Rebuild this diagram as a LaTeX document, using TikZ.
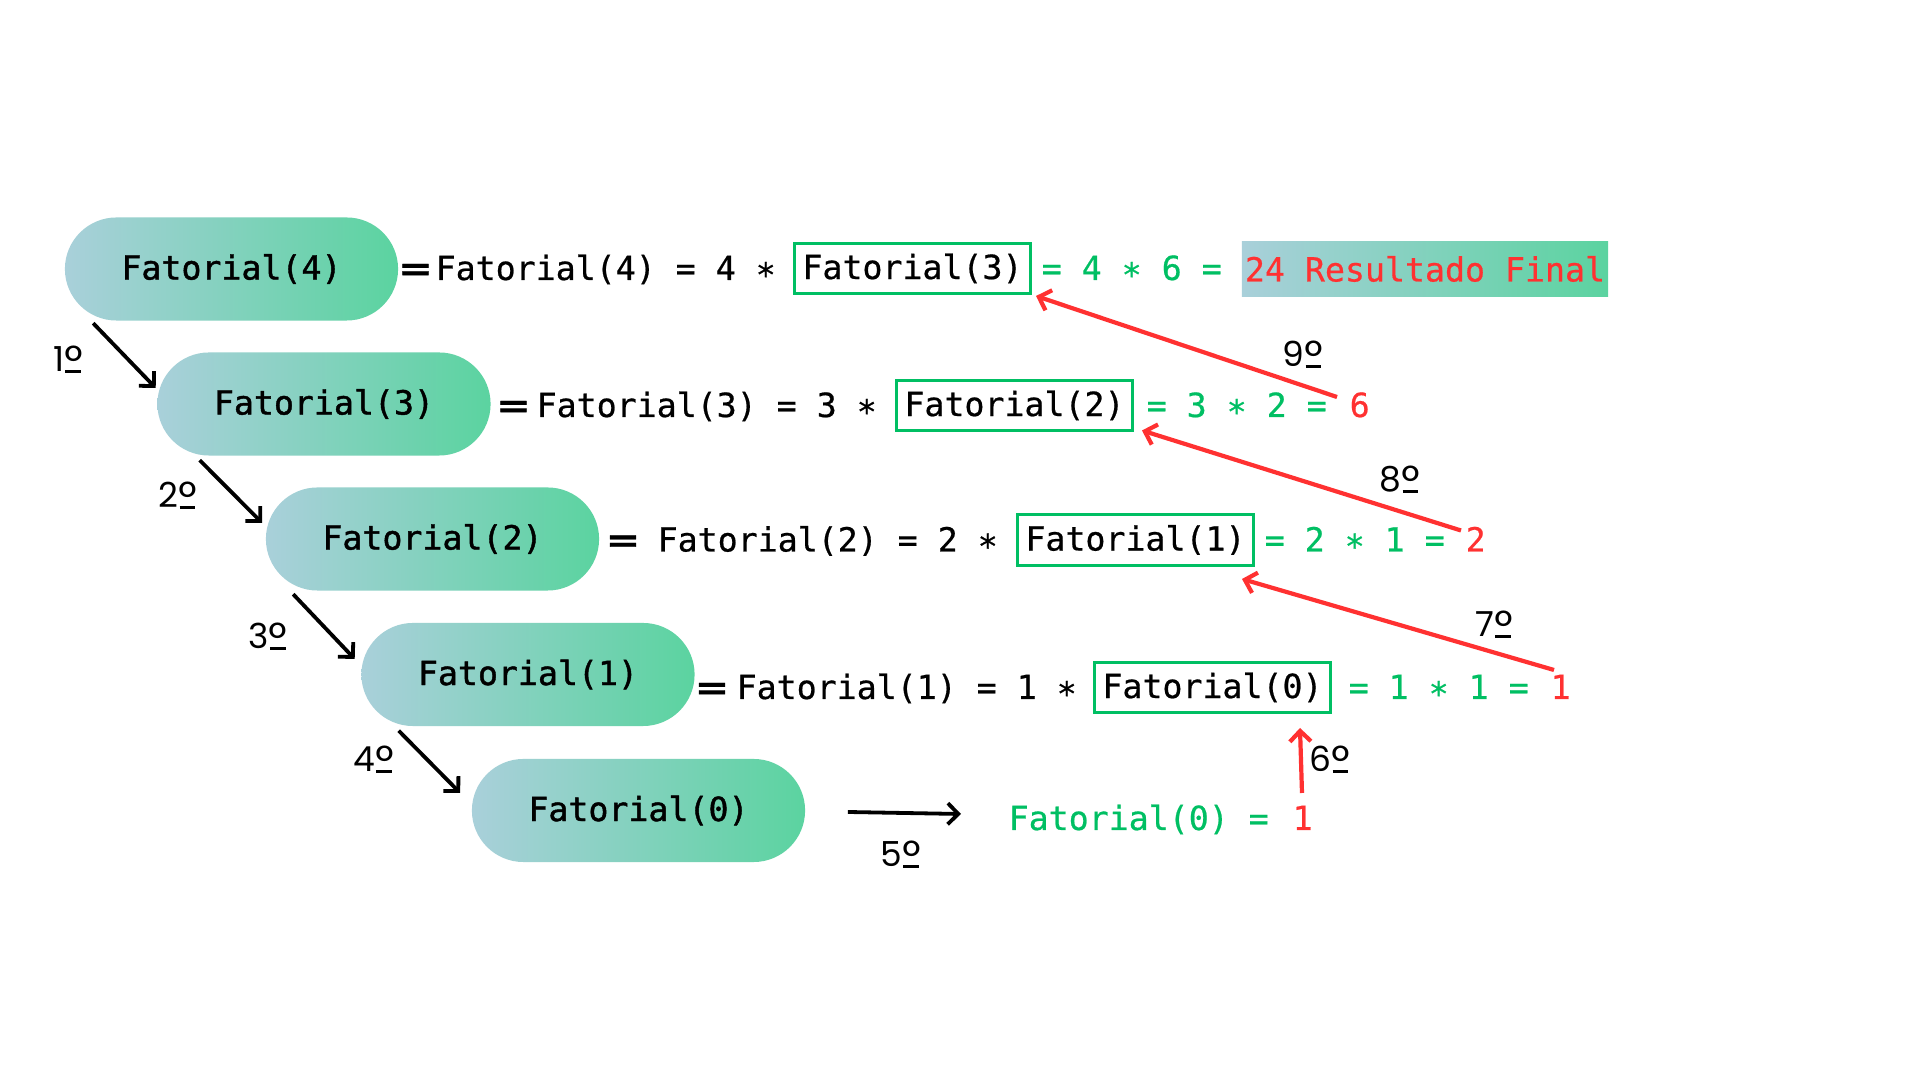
\documentclass[tikz,border=0pt]{standalone}
\usepackage{fontspec}
\setmonofont{DejaVu Sans Mono}[FakeBold=0.6]
\newfontfamily\pillfont{DejaVu Sans Mono}[FakeBold=1.3]
\newfontfamily\lblfont{Poppins}
\usetikzlibrary{arrows.meta,calc}
\definecolor{lgreen}{HTML}{00BF63}
\definecolor{lred}{HTML}{FF3131}
\definecolor{gleft}{HTML}{A9D0DA}
\definecolor{gright}{HTML}{5BD3A0}
\newcommand{\myfs}{\fontsize{9.45pt}{11pt}\selectfont}
\newcommand{\bigeq}{\scalebox{1.5}[1]{=}}
\newcommand{\ordm}{\leavevmode\rlap{\hspace{0.03em}\rule[-0.02em]{0.46em}{0.075em}}\raisebox{-0.14em}{\scalebox{1.25}{º}}}
\tikzset{
 pill/.style={rounded corners=0.515cm, minimum width=3.33cm, minimum height=1.03cm,
   left color=gleft, right color=gright, draw=none, font=\pillfont\myfs, text=black, inner sep=0},
 txt/.style={anchor=base west, inner sep=0, font=\ttfamily\myfs, text=black},
 gtxt/.style={txt, text=lgreen},
 rtxt/.style={txt, text=lred},
 eqs/.style={anchor=base, inner sep=0, font=\ttfamily\bfseries\myfs},
 fbox/.style={draw=lgreen, line width=0.03cm, minimum width=2.36cm, minimum height=0.5cm, inner sep=0, font=\ttfamily\myfs},
 resbox/.style={minimum width=3.66cm, minimum height=0.54cm, inner sep=0, left color=gleft, right color=gright,
   font=\ttfamily\myfs, text=lred},
 lbl/.style={anchor=base, inner sep=0, font=\lblfont\fontsize{9.8pt}{11pt}\selectfont},
 barrow/.style={line width=0.038cm, -{Straight Barb[length=3pt,width=6pt]}},
 rarrow/.style={draw=lred, line width=0.042cm, -{Straight Barb[length=3pt,width=6pt]}},
}
\begin{document}
\begin{tikzpicture}[x=0.01cm,y=-0.01cm]
\fill[white] (0,0) rectangle (1920,1080);
\useasboundingbox (0,0) rectangle (1920,1080);

% pills
\node[pill] (p4) at (231.5,269) {Fatorial(4)};
\node[pill] (p3) at (324,404) {Fatorial(3)};
\node[pill] (p2) at (432.5,539) {Fatorial(2)};
\node[pill] (p1) at (528,674.5) {Fatorial(1)};
\node[pill] (p0) at (638.5,810.5) {Fatorial(0)};

% row 1
\node[eqs] (e1) at (415.5,280) {\bigeq};
\node[txt] (t1) at (435,280) {Fatorial(4) = 4 ∗};
\node[fbox] (b1) at (912.5,268.5) {Fatorial(3)};
\node[gtxt] (g1) at (1041,280) {= 4 ∗ 6 =};
\node[resbox] (f1) at (1425,269) {24 Resultado Final};

% row 2
\node[eqs] (e2) at (513.5,417) {\bigeq};
\node[txt] (t2) at (536,417) {Fatorial(3) = 3 ∗};
\node[fbox] (b2) at (1014.5,405.5) {Fatorial(2)};
\node[gtxt] (g2) at (1146,417) {= 3 ∗ 2 =};
\node[rtxt] (r2) at (1349,417) {6};

% row 3
\node[eqs] (e3) at (623,551.5) {\bigeq};
\node[txt] (t3) at (657,551.5) {Fatorial(2) = 2 ∗};
\node[fbox] (b3) at (1135.5,540) {Fatorial(1)};
\node[gtxt] (g3) at (1264,551.5) {= 2 ∗ 1 =};
\node[rtxt] (r3) at (1465,551.5) {2};

% row 4
\node[eqs] (e4) at (712,699) {\bigeq};
\node[txt] (t4) at (736,699) {Fatorial(1) = 1 ∗};
\node[fbox] (b4) at (1212.5,687.5) {Fatorial(0)};
\node[gtxt] (g4) at (1348,699) {= 1 ∗ 1 =};
\node[rtxt] (r4) at (1550,699) {1};

% row 5
\node[gtxt] (t5) at (1008,830) {Fatorial(0) =};
\node[rtxt] (r5) at (1292,830) {1};

% step labels (baseline positions)
\node[lbl] (s1) at (68,372) {1\ordm};
\node[lbl] (s2) at (178,508) {2\ordm};
\node[lbl] (s3) at (268,649) {3\ordm};
\node[lbl] (s4) at (374,772) {4\ordm};
\node[lbl] (s5) at (901,867) {5\ordm};
\node[lbl] (s6) at (1330,772) {6\ordm};
\node[lbl] (s7) at (1494,637) {7\ordm};
\node[lbl] (s8) at (1400,492) {8\ordm};
\node[lbl] (s9) at (1303,367) {9\ordm};

% black arrows
\draw[barrow] ($(p4.south west)+(29,2)$) -- ($(p3.west)+(-1,-16)$);
\draw[barrow] ($(p3.south west)+(43,4)$) -- ($(p2.west)+(-3,-16)$);
\draw[barrow] ($(p2.south west)+(28,3)$) -- ($(p1.west)+(-6,-15.5)$);
\draw[barrow] ($(p1.south west)+(38,4)$) -- ($(p0.west)+(-11,-17.5)$);
\draw[barrow] ($(p0.east)+(42,1.5)$) -- ($(t5.base west)+(-47,-16)$);

% red arrows
\draw[rarrow] ($(r5.base west)+(10,-37)$) -- ($(b4.center)+(87.5,40.5)$);
\draw[rarrow] ($(r4.base west)+(4,-29)$) -- ($(b3.center)+(106.5,39)$);
\draw[rarrow] ($(r3.base west)+(-4,-21)$) -- ($(b2.center)+(127.5,25)$);
\draw[rarrow] ($(r2.base west)+(-12,-20)$) -- ($(b1.center)+(123.5,27.5)$);
\end{tikzpicture}
\end{document}
